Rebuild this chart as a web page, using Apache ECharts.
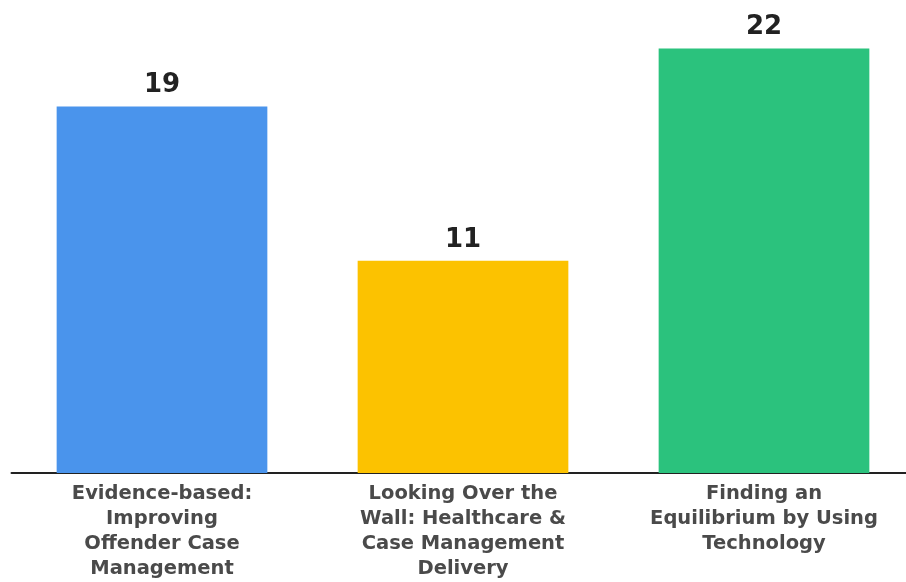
<!DOCTYPE html>
<html>
<head>
<meta charset="utf-8">
<script src="https://cdn.jsdelivr.net/npm/echarts@6/dist/echarts.min.js"></script>
<style>
  html, body { margin: 0; padding: 0; background: #fff; }
  #c { width: 906px; height: 582px; }
</style>
</head>
<body>
<div id="c"></div>
<script>
  const categories = [
    "Evidence-based:\nImproving\nOffender Case\nManagement",
    "Looking Over the\nWall: Healthcare &\nCase Management\nDelivery",
    "Finding an\nEquilibrium by Using\nTechnology"
  ];
  const values = [19, 11, 22];
  const colors = ["#4a94ec", "#fcc200", "#2bc27d"];

  const chart = echarts.init(document.getElementById("c"));
  chart.setOption({
    animation: false,
    grid: { left: 11.5, width: 903, top: 10, bottom: 109, outerBoundsMode: "none", containLabel: false },
    xAxis: {
      type: "category",
      data: categories,
      axisTick: { show: false },
      axisLine: { lineStyle: { color: "#222", width: 2 } },
      axisLabel: {
        interval: 0, margin: 8, color: "#4a4a4a", fontFamily: "DejaVu Sans",
        fontWeight: "bold", fontSize: 19.5, lineHeight: 25
      }
    },
    yAxis: { type: "value", min: 0, max: 24, show: false, splitLine: { show: false } },
    series: [{
      type: "bar",
      barWidth: "70%",
      data: values.map((v, i) => ({ value: v, itemStyle: { color: colors[i] } })),
      label: {
        show: true, position: "top", distance: 8, color: "#222",
        fontFamily: "DejaVu Sans", fontWeight: "bold", fontSize: 26
      }
    }]
  });
</script>
</body>
</html>
